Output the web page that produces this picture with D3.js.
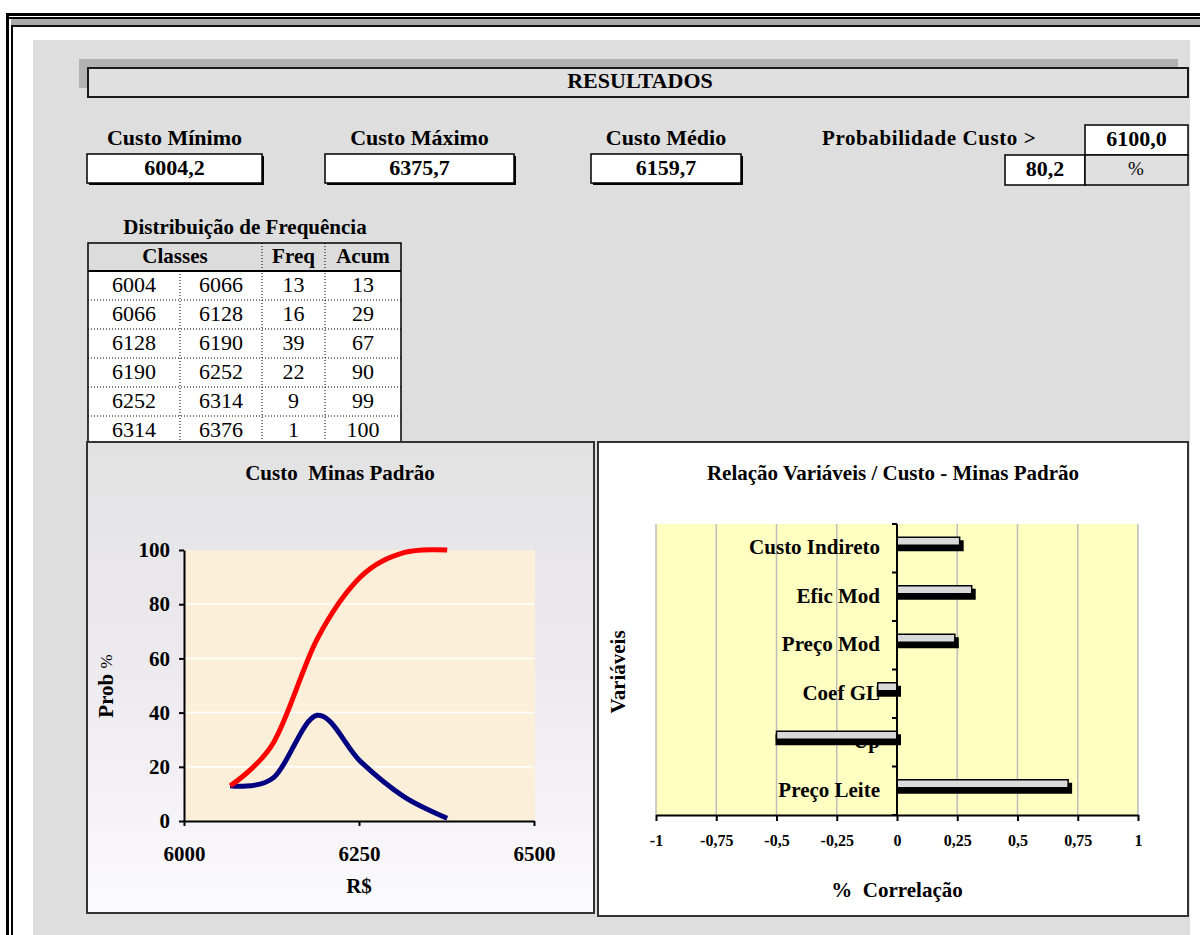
<!DOCTYPE html>
<html><head><meta charset="utf-8">
<script src="https://cdn.jsdelivr.net/npm/d3@7"></script>
<style>
html,body{margin:0;padding:0;background:#fff;}
svg{display:block;font-family:"Liberation Serif","Times New Roman",serif;}
.pre{white-space:pre;}
</style></head><body>
<svg id="sheet" width="1200" height="935"></svg>
<script>
// ---- Summary figures ----
const summaryLabels = ["Custo Mínimo", "Custo Máximo", "Custo Médio"];
const summaryValues = ["6004,2", "6375,7", "6159,7"];
const thresholdLabel = "Probabilidade Custo >";
const thresholdCost = "6100,0";
const probAbove = "80,2";

// ---- Frequency distribution ----
const classLow  = [6004, 6066, 6128, 6190, 6252, 6314];
const classHigh = [6066, 6128, 6190, 6252, 6314, 6376];
const freq = [13, 16, 39, 22, 9, 1];
const acum = [13, 29, 67, 90, 99, 100];

// ---- Cost chart axes ----
const costTicks = [6000, 6250, 6500];
const probTicks = [0, 20, 40, 60, 80, 100];

// ---- Correlation chart ----
const variables = ["Custo Indireto", "Efic Mod", "Preço Mod", "Coef GL", "Up", "Preço Leite"];
const correlations = [0.26, 0.31, 0.24, -0.08, -0.5, 0.71];
const corrTicks = [-1, -0.75, -0.5, -0.25, 0, 0.25, 0.5, 0.75, 1];
const corrTickLabels = ["-1", "-0,75", "-0,5", "-0,25", "0", "0,25", "0,5", "0,75", "1"];

const svg = d3.select("#sheet");
const defs = svg.append("defs");

// ---------- sheet frame ----------
svg.append("rect").attr("x", 6).attr("y", 13).attr("width", 1194).attr("height", 3).attr("fill", "#000");
svg.append("rect").attr("x", 9).attr("y", 17).attr("width", 1191).attr("height", 2).attr("fill", "#000");
svg.append("rect").attr("x", 11).attr("y", 19).attr("width", 1189).attr("height", 6).attr("fill", "#a9a9a9");
svg.append("rect").attr("x", 11).attr("y", 25).attr("width", 1189).attr("height", 2).attr("fill", "#111");
svg.append("rect").attr("x", 6).attr("y", 13).attr("width", 3).attr("height", 922).attr("fill", "#000");
svg.append("rect").attr("x", 11).attr("y", 25).attr("width", 2).attr("height", 910).attr("fill", "#000");

// gray sheet area
svg.append("rect").attr("x", 33).attr("y", 40).attr("width", 1157).attr("height", 895).attr("fill", "#dedede");

// ---------- RESULTADOS banner ----------
svg.append("rect").attr("x", 79).attr("y", 59).attr("width", 1099).attr("height", 29).attr("fill", "#b2b2b2");
svg.append("rect").attr("x", 88).attr("y", 68).attr("width", 1100).attr("height", 29)
  .attr("fill", "#e0e0e0").attr("stroke", "#1a1a1a").attr("stroke-width", 2);
svg.append("text").attr("x", 640).attr("y", 83).attr("text-anchor", "middle").attr("dominant-baseline", "middle")
  .attr("font-size", 22).attr("font-weight", "bold").text("RESULTADOS");

// boxed value with heavier lower-right edge
function valueBox(x, y, w, h, txt, heavy) {
  if (heavy) svg.append("rect").attr("x", x + 2).attr("y", y + 2).attr("width", w).attr("height", h).attr("fill", "#000");
  svg.append("rect").attr("x", x).attr("y", y).attr("width", w).attr("height", h)
    .attr("fill", "#fff").attr("stroke", "#000").attr("stroke-width", 1.5);
  svg.append("text").attr("x", x + w / 2).attr("y", y + h / 2 + 1).attr("text-anchor", "middle")
    .attr("dominant-baseline", "middle").attr("font-size", 22).attr("font-weight", "bold").text(txt);
}

const boxX = [87, 325, 591], boxW = [175, 189, 150];
summaryLabels.forEach((lab, i) => {
  svg.append("text").attr("x", boxX[i] + boxW[i] / 2).attr("y", 140).attr("text-anchor", "middle")
    .attr("dominant-baseline", "middle").attr("font-size", 22).attr("font-weight", "bold").text(lab);
  valueBox(boxX[i], 154, boxW[i], 29, summaryValues[i], true);
});

svg.append("text").attr("x", 822).attr("y", 140).attr("dominant-baseline", "middle")
  .attr("font-size", 21).attr("font-weight", "bold").attr("letter-spacing", 0.6).text(thresholdLabel);
valueBox(1085, 125, 103, 30, thresholdCost, false);
valueBox(1005, 155, 80, 30, probAbove, false);
svg.append("rect").attr("x", 1085).attr("y", 155).attr("width", 103).attr("height", 30)
  .attr("fill", "#e0e0e0").attr("stroke", "#000").attr("stroke-width", 1.5);
svg.append("text").attr("x", 1136).attr("y", 171).attr("text-anchor", "middle").attr("dominant-baseline", "middle")
  .attr("font-size", 19).text("%");

// ---------- frequency table ----------
svg.append("text").attr("x", 245).attr("y", 229).attr("text-anchor", "middle").attr("dominant-baseline", "middle")
  .attr("font-size", 21).attr("font-weight", "bold").text("Distribuição de Frequência");

const colEdges = [88, 180, 262, 325, 401];
const headTop = 243, headH = 28, rowH = 29;
const rows = classLow.map((c, i) => [classLow[i], classHigh[i], freq[i], acum[i]]);
const bodyTop = headTop + headH;
const tbl = svg.append("g");

tbl.append("rect").attr("x", colEdges[0]).attr("y", headTop).attr("width", colEdges[4] - colEdges[0]).attr("height", headH)
  .attr("fill", "#dcdcdc");
tbl.append("rect").attr("x", colEdges[0]).attr("y", bodyTop).attr("width", colEdges[4] - colEdges[0]).attr("height", rows.length * rowH)
  .attr("fill", "#fff");
// dotted separators
rows.forEach((r, i) => {
  if (i > 0) tbl.append("line").attr("x1", colEdges[0]).attr("x2", colEdges[4])
    .attr("y1", bodyTop + i * rowH).attr("y2", bodyTop + i * rowH)
    .attr("stroke", "#000").attr("stroke-width", 1).attr("stroke-dasharray", "1,2");
});
[1, 2, 3].forEach(k => {
  tbl.append("line").attr("x1", colEdges[k]).attr("x2", colEdges[k])
    .attr("y1", k === 1 ? bodyTop : headTop).attr("y2", bodyTop + rows.length * rowH)
    .attr("stroke", "#000").attr("stroke-width", 1).attr("stroke-dasharray", "1,2");
});
tbl.append("rect").attr("x", colEdges[0]).attr("y", headTop).attr("width", colEdges[4] - colEdges[0])
  .attr("height", headH + rows.length * rowH).attr("fill", "none").attr("stroke", "#000").attr("stroke-width", 1.5);
tbl.append("line").attr("x1", colEdges[0]).attr("x2", colEdges[4]).attr("y1", bodyTop).attr("y2", bodyTop)
  .attr("stroke", "#000").attr("stroke-width", 2);

const headers = [["Classes", (colEdges[0] + colEdges[2]) / 2], ["Freq", (colEdges[2] + colEdges[3]) / 2], ["Acum", (colEdges[3] + colEdges[4]) / 2]];
headers.forEach(([t, cx]) => {
  tbl.append("text").attr("x", cx).attr("y", headTop + headH / 2 + 1).attr("text-anchor", "middle")
    .attr("dominant-baseline", "middle").attr("font-size", 21).attr("font-weight", "bold").text(t);
});
rows.forEach((r, i) => {
  r.forEach((v, j) => {
    tbl.append("text").attr("x", (colEdges[j] + colEdges[j + 1]) / 2).attr("y", bodyTop + i * rowH + rowH / 2 + 1)
      .attr("text-anchor", "middle").attr("dominant-baseline", "middle").attr("font-size", 22).text(v);
  });
});

// ---------- cost distribution chart ----------
const grad = defs.append("linearGradient").attr("id", "panelGrad").attr("x1", 0).attr("y1", 0).attr("x2", 0).attr("y2", 1);
grad.append("stop").attr("offset", "0%").attr("stop-color", "#e2e2e2");
grad.append("stop").attr("offset", "55%").attr("stop-color", "#eeebf1");
grad.append("stop").attr("offset", "100%").attr("stop-color", "#fbfafc");

svg.append("rect").attr("x", 87).attr("y", 442).attr("width", 507).attr("height", 471)
  .attr("fill", "url(#panelGrad)").attr("stroke", "#333").attr("stroke-width", 2);
svg.append("text").attr("class", "pre").attr("x", 340).attr("y", 475).attr("text-anchor", "middle")
  .attr("dominant-baseline", "middle").attr("font-size", 21).attr("font-weight", "bold").text("Custo  Minas Padrão");

const x = d3.scaleLinear().domain([6000, 6500]).range([184, 534]);
const y = d3.scaleLinear().domain([0, 100]).range([821, 550]);

svg.append("rect").attr("x", x(6000)).attr("y", y(100)).attr("width", x(6500) - x(6000) + 1).attr("height", y(0) - y(100))
  .attr("fill", "#fcefd9");
svg.append("g").selectAll("line").data(probTicks.filter(t => t > 0 && t < 100)).join("line")
  .attr("x1", x(6000)).attr("x2", x(6500)).attr("y1", d => y(d)).attr("y2", d => y(d))
  .attr("stroke", "#fff").attr("stroke-width", 1.5);

const yAxis = svg.append("g").attr("transform", `translate(${x(6000)},0)`)
  .call(d3.axisLeft(y).tickValues(probTicks).tickSize(5).tickSizeOuter(0).tickPadding(9));
const xAxis = svg.append("g").attr("transform", `translate(0,${y(0)})`)
  .call(d3.axisBottom(x).tickValues(costTicks).tickSize(5).tickSizeOuter(0).tickPadding(20).tickFormat(d3.format("d")));
[yAxis, xAxis].forEach(g => {
  g.select(".domain").attr("stroke", "#000").attr("stroke-width", 2);
  g.selectAll(".tick line").attr("stroke", "#000").attr("stroke-width", 2);
  g.selectAll(".tick text").attr("font-family", "'Liberation Serif','Times New Roman',serif")
    .attr("font-size", 21).attr("font-weight", "bold").attr("fill", "#000");
});

const lineGen = d3.line().curve(d3.curveCatmullRom.alpha(0));
const freqPts = classHigh.map((c, i) => [x(c), y(freq[i])]);
const acumPts = classHigh.map((c, i) => [x(c), y(acum[i])]);
svg.append("path").attr("d", lineGen(freqPts)).attr("fill", "none").attr("stroke", "#000080")
  .attr("stroke-width", 5).attr("stroke-linejoin", "round");
svg.append("path").attr("d", lineGen(acumPts)).attr("fill", "none").attr("stroke", "#ff0000")
  .attr("stroke-width", 5).attr("stroke-linejoin", "round");

svg.append("text").attr("x", x(6250)).attr("y", 888).attr("text-anchor", "middle").attr("dominant-baseline", "middle")
  .attr("font-size", 21).attr("font-weight", "bold").text("R$");
const probLab = svg.append("text").attr("transform", "translate(108,686) rotate(-90)").attr("text-anchor", "middle")
  .attr("dominant-baseline", "middle").attr("font-size", 21).attr("font-weight", "bold");
probLab.append("tspan").text("Prob ");
probLab.append("tspan").attr("font-weight", "normal").attr("font-size", 17).text("%");

// ---------- correlation chart ----------
svg.append("rect").attr("x", 598).attr("y", 442).attr("width", 590).attr("height", 474)
  .attr("fill", "#fff").attr("stroke", "#333").attr("stroke-width", 2);
svg.append("text").attr("x", 893).attr("y", 475).attr("text-anchor", "middle").attr("dominant-baseline", "middle")
  .attr("font-size", 21).attr("font-weight", "bold").text("Relação Variáveis / Custo - Minas Padrão");

const xc = d3.scaleLinear().domain([-1, 1]).range([656, 1138]);
const yc = d3.scaleBand().domain(variables).range([524, 815]).padding(0);

svg.append("rect").attr("x", xc(-1)).attr("y", 524).attr("width", xc(1) - xc(-1)).attr("height", 291).attr("fill", "#ffffc2");
svg.append("g").selectAll("line").data(corrTicks.filter(t => t !== 0)).join("line")
  .attr("x1", d => xc(d)).attr("x2", d => xc(d)).attr("y1", 524).attr("y2", 815)
  .attr("stroke", "#bdbdbd").attr("stroke-width", 1.5);

// category labels sit beneath the bars
svg.append("g").selectAll("text").data(variables).join("text")
  .attr("x", 880).attr("y", d => yc(d) + yc.bandwidth() / 2 + 1).attr("text-anchor", "end")
  .attr("dominant-baseline", "middle").attr("font-size", 21).attr("font-weight", "bold").text(d => d);

const bars = svg.append("g").selectAll("g").data(variables.map((v, i) => ({ v, r: correlations[i] }))).join("g");
bars.append("rect")
  .attr("x", d => Math.min(xc(0), xc(d.r)) - 1)
  .attr("y", d => yc(d.v) + yc.bandwidth() / 2 - 8)
  .attr("width", d => Math.abs(xc(d.r) - xc(0)) + 5)
  .attr("height", 11).attr("fill", "#000");
bars.append("rect")
  .attr("x", d => Math.min(xc(0), xc(d.r)))
  .attr("y", d => yc(d.v) + yc.bandwidth() / 2 - 11)
  .attr("width", d => Math.abs(xc(d.r) - xc(0)))
  .attr("height", 8).attr("fill", "#d9d9d9").attr("stroke", "#000").attr("stroke-width", 1.5);

// vertical category axis at zero
svg.append("line").attr("x1", xc(0)).attr("x2", xc(0)).attr("y1", 524).attr("y2", 815).attr("stroke", "#000").attr("stroke-width", 2);
svg.append("g").selectAll("line").data(d3.range(variables.length + 1)).join("line")
  .attr("x1", xc(0) - 5).attr("x2", xc(0)).attr("y1", i => 524 + i * yc.step()).attr("y2", i => 524 + i * yc.step())
  .attr("stroke", "#000").attr("stroke-width", 2);

const xcAxis = svg.append("g").attr("transform", "translate(0,815)")
  .call(d3.axisBottom(xc).tickValues(corrTicks).tickSize(6).tickSizeOuter(0).tickPadding(14)
    .tickFormat((d, i) => corrTickLabels[i]));
xcAxis.select(".domain").attr("stroke", "#000").attr("stroke-width", 2);
xcAxis.selectAll(".tick line").attr("stroke", "#000").attr("stroke-width", 2);
xcAxis.selectAll(".tick text").attr("font-family", "'Liberation Serif','Times New Roman',serif")
  .attr("font-size", 16).attr("font-weight", "bold").attr("fill", "#000");

svg.append("text").attr("class", "pre").attr("x", 897).attr("y", 892).attr("text-anchor", "middle").attr("dominant-baseline", "middle")
  .attr("font-size", 21).attr("font-weight", "bold").text("%  Correlação");
svg.append("text").attr("transform", "translate(620,672) rotate(-90)").attr("text-anchor", "middle")
  .attr("dominant-baseline", "middle").attr("font-size", 21).attr("font-weight", "bold").text("Variáveis");
</script>
</body></html>
